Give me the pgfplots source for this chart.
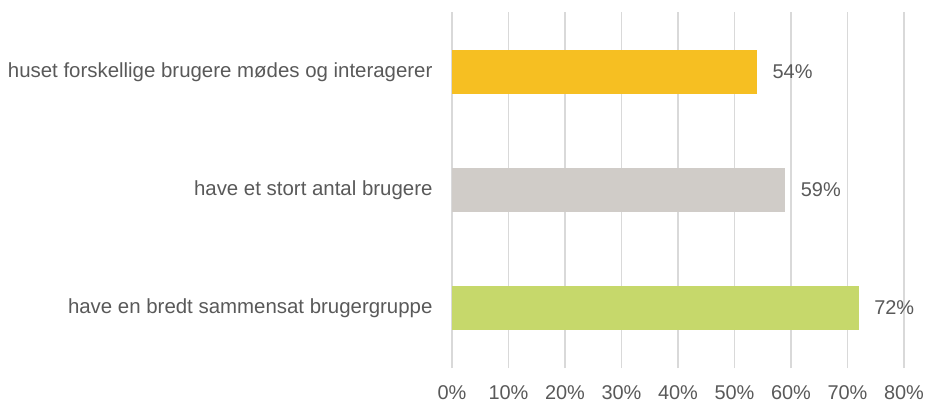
\documentclass[border=0pt]{standalone}
\usepackage{pgfplots}
\pgfplotsset{compat=1.18}
\usepackage{fontspec}
\setmainfont{Liberation Sans}
\definecolor{barY}{HTML}{F6BF22}
\definecolor{barG}{HTML}{D0CCC8}
\definecolor{barL}{HTML}{C6D86B}
\definecolor{txt}{HTML}{595959}
\definecolor{gridc}{HTML}{D9D9D9}
\begin{document}
\begin{tikzpicture}[x=1bp,y=1bp]
\useasboundingbox (0,0) rectangle (926,403);
\begin{axis}[
  at={(452bp,35bp)},anchor=south west,
  scale only axis,width=452bp,height=356bp,
  xbar,bar width=44bp,bar shift=0pt,
  xmin=0,xmax=80,ymin=-0.508,ymax=2.508,
  axis line style={draw=none},
  xtick={0,10,...,80},
  xticklabel={\pgfmathprintnumber{\tick}\%},
  xmajorgrids=true,ymajorgrids=false,
  grid style={draw=gridc,line width=1.3bp},
  major tick length=0pt,
  ytick={0,1,2},
  yticklabels={have en bredt sammensat brugergruppe,have et stort antal brugere,huset forskellige brugere mødes og interagerer},
  yticklabel style={xshift=-16bp,font=\fontsize{20.5}{23}\selectfont},
  xticklabel style={yshift=-14bp,font=\fontsize{20}{23}\selectfont},
  tick label style={text=txt},
  /pgf/number format/assume math mode=true,
  nodes near coords={\pgfmathprintnumber{\pgfplotspointmeta}\%},
  nodes near coords style={font=\fontsize{20}{23}\selectfont,text=txt,anchor=west,xshift=12bp},
  point meta=x,
]
\addplot[draw=none,fill=barL] coordinates {(72,0)};
\addplot[draw=none,fill=barG] coordinates {(59,1)};
\addplot[draw=none,fill=barY] coordinates {(54,2)};
\end{axis}
\end{tikzpicture}
\end{document}
